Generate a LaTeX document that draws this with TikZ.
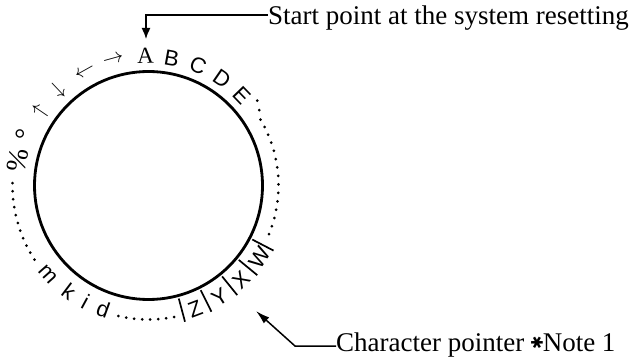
\documentclass[tikz,border=0pt]{standalone}
\usepackage{graphicx}
\usepackage{fontspec}
\setmainfont{Liberation Serif}
\setsansfont{Liberation Sans}
\newfontfamily\symfont{DejaVu Sans}
\usetikzlibrary{arrows.meta}
\begin{document}
\begin{tikzpicture}[x=1pt,y=1pt,
  ring/.style={line width=2.8pt},
  lead/.style={line width=1.5pt},
  sepbar/.style={line width=1.7pt},
  toplet/.style={anchor=base,inner sep=0pt,font=\fontsize{22}{22}\selectfont\sffamily},
  serlet/.style={anchor=base,inner sep=0pt,font=\fontsize{23}{23}\selectfont},
  botlet/.style={anchor=base,inner sep=0pt,font=\fontsize{22}{22}\selectfont\sffamily},
  symlet/.style={anchor=center,inner sep=0pt,font=\normalsize},
  bigsym/.style={inner sep=0pt,font=\fontsize{28}{28}\selectfont},
  caption/.style={anchor=base west,inner sep=0pt,font=\fontsize{27}{27}\selectfont},
  dot/.style={fill=black}
]
\useasboundingbox (0,0) rectangle (637,-358);
\coordinate (O) at (148.5,-185.5);
\draw[ring] (O) circle (114);

% top letters
\node[serlet, rotate=1.3] (LA) at ([shift={(91.3:122)}]O) {A};
\foreach \ch/\a in {B/79.7, C/67.5, D/55.5, E/44}
  \node[toplet, rotate=\a-90] (L\ch) at ([shift={(\a:122)}]O) {\ch};

% arrows and symbols on the left
\foreach \ch/\a/\r/\n in {\rightarrow/105.6/130/ra, \leftarrow/119.2/130/la, \downarrow/133.5/131/da, \uparrow/145.7/131/ua}
  \node[symlet, rotate=\a-90] (\n) at ([shift={(\a:\r)}]O) {\scalebox{2.1}{$\ch$}};
\node[bigsym, anchor=base, rotate=68] (deg) at ([shift={(158:124)}]O) {°};
\node[bigsym, anchor=center, rotate=79] (pct) at ([shift={(169:133)}]O) {\%};

% bottom letters
\foreach \ch/\a in {m/221.5, k/233, i/241.5, d/250, Z/290.7, Y/302.5, X/314.5, W/327.2}
  \node[botlet, rotate=\a+90] (L\ch) at ([shift={(\a:140)}]O) {\ch};

% separator bars
\foreach \a in {-75,-63.5,-51,-39.5,-27.5}
  \draw[sepbar] ([shift={(\a:117)}]O) -- ([shift={(\a:141)}]O);

% dotted runs
\foreach \a in {38,34.25,...,-22.1}{
  \pgfmathsetmacro\rr{130+max(0,\a-30.5)*1.07}
  \fill[dot] ([shift={(\a:\rr)}]O) circle (1.5);
}
\foreach \a in {179,182.4,...,213.1}
  \fill[dot] ([shift={(\a:136)}]O) circle (1.5);
\foreach \a in {257,260.43,...,281.1}
  \fill[dot] ([shift={(\a:134)}]O) circle (1.5);

% captions and pointers
\node[caption] (start) at (268,-24.5) {Start point at the system resetting};
\coordinate (tipA) at (146,-39);
\draw[lead,-{Latex[length=11pt,width=9pt]}] ([yshift=9.5pt]start.base west) -| (tipA);

\node[caption] (cp) at (336,-351.5) {Character pointer {\fontsize{16}{16}\selectfont\symfont\raisebox{3pt}{\rotatebox[origin=c]{90}{✱}}}Note 1};
\coordinate (bend) at (295,-346);
\coordinate (ptr) at (256,-311);
\draw[lead,-{Latex[length=14pt,width=8pt]}] ([yshift=5.5pt]cp.base west) -- (bend) -- (ptr);
\end{tikzpicture}
\end{document}
